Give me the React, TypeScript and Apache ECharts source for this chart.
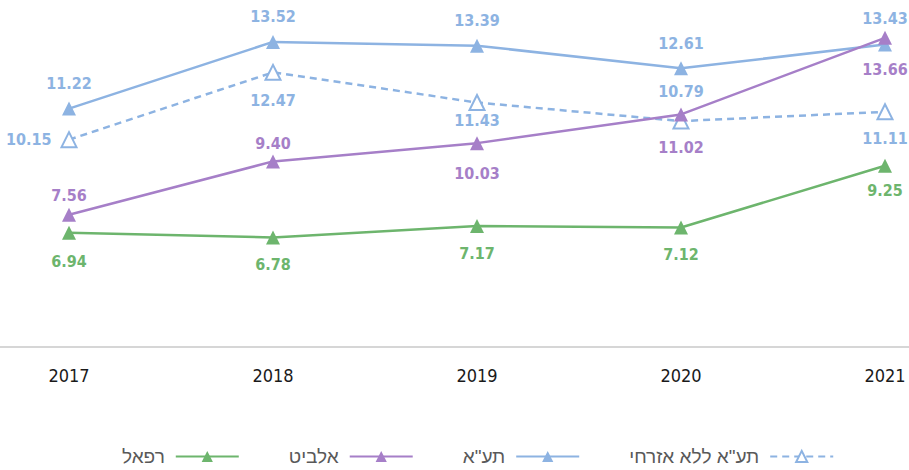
import React, { useEffect, useRef } from "react";
import * as echarts from "echarts";

const years = ["2017", "2018", "2019", "2020", "2021"];
const rafael = [6.94, 6.78, 7.17, 7.12, 9.25];
const elbit = [7.56, 9.4, 10.03, 11.02, 13.66];
const iai = [11.22, 13.52, 13.39, 12.61, 13.43];
const iaiNoCivil = [10.15, 12.47, 11.43, 10.79, 11.11];

const rafaelPos = ["bottom", "bottom", "bottom", "bottom", "bottom"];
const elbitPos = ["top", "top", "bottom", "bottom", "bottom"];
const iaiPos = ["top", "top", "top", "top", "top"];
const iaiNoCivilPos = ["left", "bottom", "bottom", "top", "bottom"];

const rafaelDist = [14, 12, 12, 12, 10];
const elbitDist = [4, 3, 15, 18, 17];
const iaiDist = [10, 10, 10, 10, 11];
const iaiNoCivilDist = [9, 12, 1, 13, 10];

const seriesNames = ["רפאל", "אלביט", "תע\"א", "תע\"א ללא אזרחי"];

const GREEN = "#6db56d";
const PURPLE = "#a67fc8";
const BLUE = "#8db3e2";
const LABEL_FONT = "'DejaVu Sans Condensed', sans-serif";

function withLabels(values: number[], positions: string[], dists: number[]) {
  return values.map((v, i) => ({
    value: v,
    label: { position: positions[i], distance: dists[i] },
  }));
}

export default function App() {
  const ref = useRef<HTMLDivElement>(null);
  useEffect(() => {
    if (!ref.current) return;
    const chart = echarts.init(ref.current, null, { renderer: "svg" });
    const labelBase = (color: string) => ({
      show: true,
      color,
      fontFamily: LABEL_FONT,
      fontWeight: "bold",
      fontSize: 16,
      formatter: (p: any) => Number(p.value).toFixed(2),
    });
    chart.setOption({
      animation: false,
      grid: { left: 69, right: 24, top: 28, bottom: 123 },
      xAxis: {
        type: "category",
        data: years,
        boundaryGap: false,
        axisLine: { show: false },
        axisTick: { show: false },
        axisLabel: {
          color: "#1a1a1a",
          fontFamily: LABEL_FONT,
          fontSize: 18,
          margin: 19,
        },
      },
      yAxis: {
        type: "value",
        min: 3,
        max: 14,
        show: false,
        splitLine: { show: false },
      },
      legend: {
        data: seriesNames,
        left: 117,
        top: 442,
        width: 900,
        align: "right",
        itemWidth: 63,
        itemHeight: 14,
        itemGap: 49,
        textStyle: {
          color: "#595959",
          fontFamily: "'Liberation Sans', Arial, sans-serif",
          fontSize: 19,
          padding: [0, 6, 0, 0],
        },
      },
      graphic: [
        {
          type: "line",
          shape: { x1: 0, y1: 347, x2: 909, y2: 347 },
          style: { stroke: "#c8c8c8", lineWidth: 1.5 },
          silent: true,
        },
      ],
      series: [
        {
          name: seriesNames[0],
          type: "line",
          data: withLabels(rafael, rafaelPos, rafaelDist),
          symbol: "triangle",
          symbolSize: 14,
          lineStyle: { color: GREEN, width: 2.5 },
          itemStyle: { color: GREEN },
          label: labelBase(GREEN),
          z: 2,
        },
        {
          name: seriesNames[1],
          type: "line",
          data: withLabels(elbit, elbitPos, elbitDist),
          symbol: "triangle",
          symbolSize: 14,
          lineStyle: { color: PURPLE, width: 2.5 },
          itemStyle: { color: PURPLE },
          label: labelBase(PURPLE),
          z: 4,
        },
        {
          name: seriesNames[2],
          type: "line",
          data: withLabels(iai, iaiPos, iaiDist),
          symbol: "triangle",
          symbolSize: 14,
          lineStyle: { color: BLUE, width: 2.5 },
          itemStyle: { color: BLUE },
          label: labelBase(BLUE),
          z: 3,
        },
        {
          name: seriesNames[3],
          type: "line",
          data: withLabels(iaiNoCivil, iaiNoCivilPos, iaiNoCivilDist),
          symbol: "triangle",
          symbolSize: 15,
          lineStyle: { color: BLUE, width: 2.5, type: [7, 5] },
          itemStyle: { color: "#ffffff", borderColor: BLUE, borderWidth: 2 },
          label: labelBase(BLUE),
          z: 3,
        },
      ],
    });
    return () => chart.dispose();
  }, []);
  return <div ref={ref} style={{ width: 909, height: 470, position: "absolute", left: 0, top: 0 }} />;
}
